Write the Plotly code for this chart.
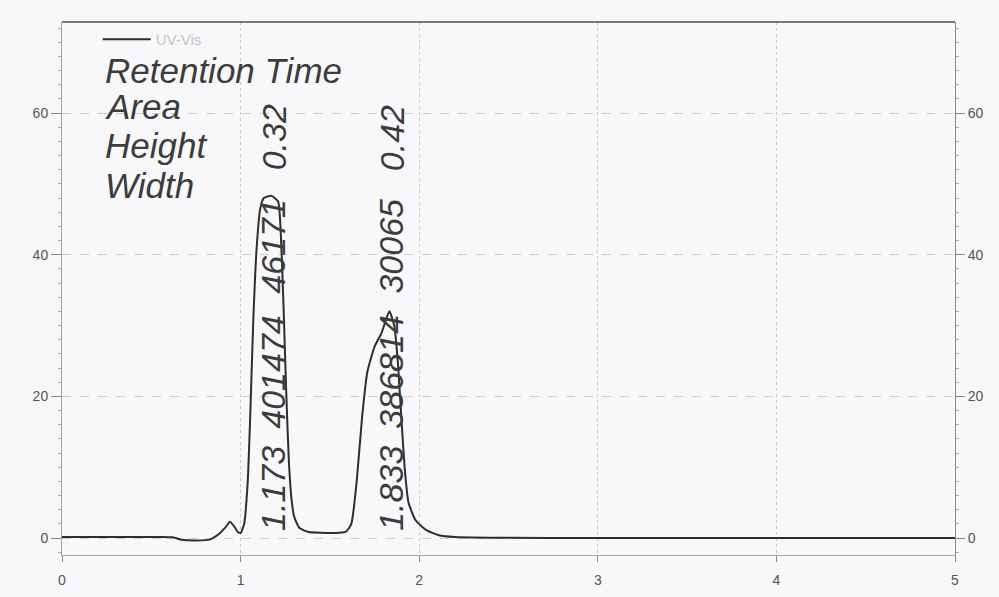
import plotly.graph_objects as go

# ---- data ----
time_min = [0.00, 0.30, 0.55, 0.62, 0.67, 0.75, 0.83, 0.88, 0.915, 0.94, 0.965, 0.985,
            1.00, 1.02, 1.04, 1.055, 1.07, 1.09, 1.11, 1.13, 1.173, 1.21, 1.225, 1.24,
            1.255, 1.27, 1.285, 1.30, 1.33, 1.38, 1.45, 1.55, 1.59, 1.62, 1.65, 1.68,
            1.71, 1.75, 1.79, 1.833, 1.86, 1.88, 1.90, 1.92, 1.94, 1.98, 2.04, 2.11,
            2.20, 2.40, 3.00, 4.00, 5.00]
signal = [0.15, 0.15, 0.15, 0.1, -0.25, -0.35, -0.2, 0.6, 1.5, 2.3, 1.6, 0.85,
          0.7, 2.0, 8.0, 18.0, 30.0, 41.0, 46.5, 48.0, 48.3, 47.5, 43.0, 33.0,
          21.0, 11.0, 5.5, 3.0, 1.4, 0.85, 0.75, 0.75, 0.9, 2.0, 8.0, 17.0,
          23.5, 27.0, 29.0, 32.0, 30.0, 25.0, 17.0, 9.5, 5.0, 2.5, 1.1, 0.4,
          0.15, 0.05, 0.0, 0.0, 0.0]

peak_rt = ["1.173", "1.833"]
peak_area = ["401474", "386814"]
peak_height = ["46171", "30065"]
peak_width = ["0.32", "0.42"]
peak_rt_val = [1.173, 1.833]

header_lines = ["Retention Time", "Area", "Height", "Width"]
x_ticks = [0, 1, 2, 3, 4, 5]
y_ticks = [0, 20, 40, 60]
x_range = [0, 5]
y_range = [-2.4, 72.85]

# ---- figure ----
ink = "#3c3c3c"
fig = go.Figure()
fig.add_trace(go.Scatter(
    x=time_min, y=signal, mode="lines", name="UV-Vis",
    line=dict(color="#2e2e2e", width=2, shape="spline", smoothing=0.5),
    hoverinfo="skip",
))
# invisible copy bound to the right-hand axis so that axis is drawn
fig.add_trace(go.Scatter(
    x=time_min, y=signal, mode="lines", yaxis="y2", showlegend=False,
    line=dict(color="rgba(0,0,0,0)", width=0), hoverinfo="skip",
))

# header annotations (upper-left block)
header_y = [0.9095, 0.8421, 0.7689, 0.6939]
for txt, yy in zip(header_lines, header_y):
    fig.add_annotation(
        x=0.046, y=yy, xref="paper", yref="paper", text=txt, showarrow=False,
        xanchor="left", yanchor="middle",
        font=dict(family="Liberation Sans, Arial, sans-serif", size=35, color=ink, style="italic"),
    )

# peak labels (rotated, one field per annotation)
field_y = [7.0, 23.4, 41.2, 56.5]
for i, rt in enumerate(peak_rt_val):
    fields = [peak_rt[i], peak_area[i], peak_height[i], peak_width[i]]
    for txt, yy in zip(fields, field_y):
        fig.add_annotation(
            x=rt, y=yy, xref="x", yref="y", text=txt, showarrow=False,
            textangle=-90, xanchor="center", yanchor="middle", xshift=2,
            font=dict(family="Liberation Sans, Arial, sans-serif", size=34, color=ink, style="italic"),
        )

axis_font = dict(family="Liberation Sans, Arial, sans-serif", size=14, color="#555")

fig.update_layout(
    width=999, height=597,
    margin=dict(l=62, r=44, t=22, b=42),
    paper_bgcolor="#f8f8fa", plot_bgcolor="#f8f8fa",
    showlegend=True,
    legend=dict(x=0.04, y=0.998, xanchor="left", yanchor="top",
                bgcolor="rgba(0,0,0,0)", font=dict(size=15, color="#c4c4c4",
                family="Liberation Sans, Arial, sans-serif"), itemwidth=48),
    xaxis=dict(range=x_range, tickvals=x_ticks, ticktext=[str(v) for v in x_ticks],
               showgrid=True, gridcolor="#c9c9c9", griddash="dot", gridwidth=1,
               zeroline=False, showline=True, linecolor="#a8a8a8", linewidth=1,
               ticks="outside", ticklen=6, tickcolor="#888", tickfont=axis_font,
               ticklabelstandoff=6, automargin=False),
    yaxis=dict(range=y_range, tickvals=y_ticks, ticktext=[str(v) for v in y_ticks],
               showgrid=True, gridcolor="#cdcdcd", griddash="dash", gridwidth=1,
               zeroline=False, showline=True, linecolor="#a0a0a0", linewidth=1,
               ticks="outside", ticklen=10, tickcolor="#888", tickfont=axis_font,
               automargin=False,
               minor=dict(dtick=2, ticks="outside", ticklen=3, tickcolor="#aaa")),
    yaxis2=dict(range=y_range, tickvals=y_ticks, ticktext=[str(v) for v in y_ticks],
                overlaying="y", side="right", showgrid=False, zeroline=False,
                showline=True, linecolor="#8a8a8a", linewidth=1,
                ticks="outside", ticklen=9, tickcolor="#888", tickfont=axis_font,
                automargin=False,
                minor=dict(dtick=2, ticks="outside", ticklen=3, tickcolor="#aaa")),
    shapes=[dict(type="line", xref="paper", yref="paper", x0=0, x1=1, y0=1, y1=1,
                 line=dict(color="#505050", width=1.5))],
)

fig.write_html("out.html")
